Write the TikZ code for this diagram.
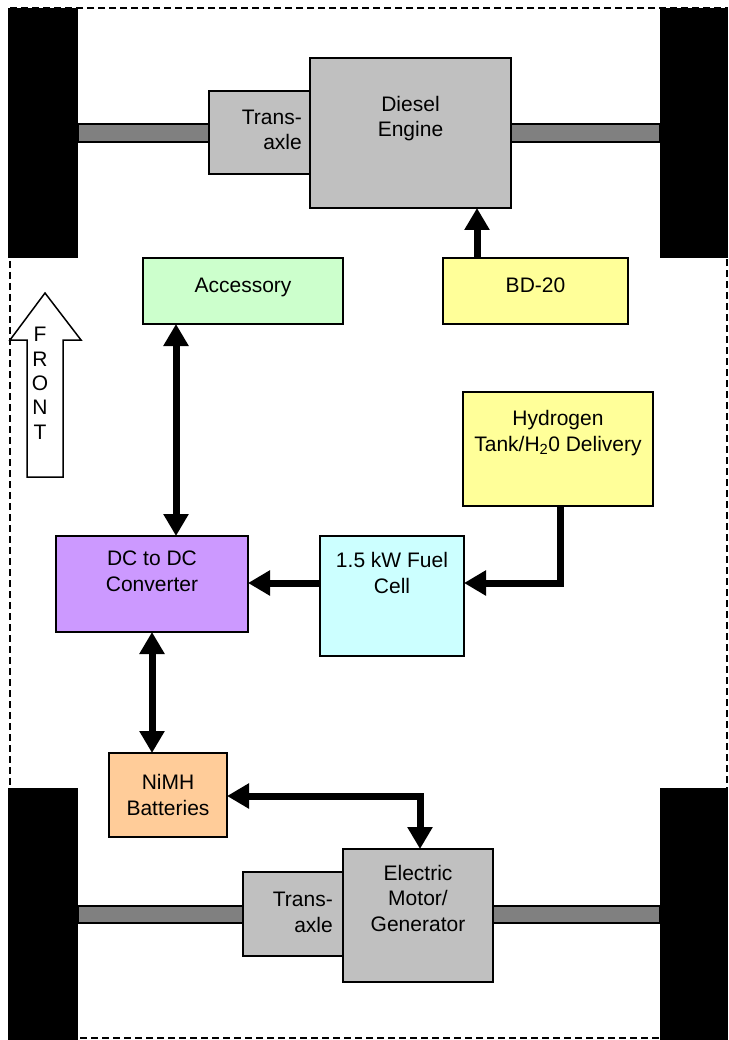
\documentclass[tikz,border=0pt]{standalone}
\usepackage{fontspec}
\setmainfont{Liberation Sans}
\usetikzlibrary{arrows.meta}
\definecolor{boxgray}{HTML}{C0C0C0}
\definecolor{axlegray}{HTML}{808080}
\definecolor{accgreen}{HTML}{CCFFCC}
\definecolor{fuelyellow}{HTML}{FFFF99}
\definecolor{cellcyan}{HTML}{CCFFFF}
\definecolor{dcpurple}{HTML}{CC99FF}
\definecolor{batorange}{HTML}{FFCC99}
\tikzset{
  blk/.style={draw=black, line width=2pt, rectangle, inner sep=0pt, outer sep=0pt},
  txt/.style={font=\fontsize{21}{25.5}\selectfont, inner sep=0pt, align=center, anchor=base},
  txtr/.style={font=\fontsize{21}{25.5}\selectfont, inner sep=0pt, align=right, anchor=base east},
  conn/.style={line width=7pt, miter limit=10, -{Triangle[length=22pt,width=24pt]}},
  dconn/.style={line width=7pt, miter limit=10, {Triangle[length=22pt,width=24pt]}-{Triangle[length=22pt,width=24pt]}}
}
\begin{document}
\begin{tikzpicture}[x=1pt,y=-1pt]
\useasboundingbox (0,0) rectangle (728,1040);
% chassis outline
\draw[line width=1.3pt, dash pattern=on 7pt off 4pt] (10,8) rectangle (727,1038);
% axles
\draw[fill=axlegray, line width=1.5pt] (78,124) rectangle (660,142);
\draw[fill=axlegray, line width=1.5pt] (78,906) rectangle (660,923);
% wheels
\fill[black] (8,8) rectangle (78,258);
\fill[black] (660,8) rectangle (728,258);
\fill[black] (8,788) rectangle (78,1040);
\fill[black] (660,788) rectangle (728,1040);
% boxes
\node[blk, fill=boxgray, minimum width=101pt, minimum height=83pt] (taT) at (259.5,132.5) {};
\node[blk, fill=boxgray, minimum width=201pt, minimum height=150pt] (eng) at (410.5,133) {};
\node[blk, fill=accgreen, minimum width=200pt, minimum height=66pt] (acc) at (243,291) {};
\node[blk, fill=fuelyellow, minimum width=185pt, minimum height=66pt] (bd) at (535.5,291) {};
\node[blk, fill=fuelyellow, minimum width=190pt, minimum height=114pt] (hyd) at (558,449) {};
\node[blk, fill=cellcyan, minimum width=144pt, minimum height=120pt] (fc) at (392,596) {};
\node[blk, fill=dcpurple, minimum width=192pt, minimum height=96pt] (dc) at (152,584) {};
\node[blk, fill=batorange, minimum width=118pt, minimum height=84pt] (nimh) at (168,795) {};
\node[blk, fill=boxgray, minimum width=100pt, minimum height=84pt] (taB) at (293,914) {};
\node[blk, fill=boxgray, minimum width=150pt, minimum height=133pt] (mot) at (418,915.5) {};
% texts (anchor base = baseline of last line)
\node[txt] (tEng) at (410.5,137) {Diesel\\Engine};
\node[txtr] (tTaT) at (302,150) {Trans-\\axle};
\node[txt] (tAcc) at (243,292) {Accessory};
\node[txt] (tBd) at (535.5,292) {BD-20};
\node[txt] (tHyd) at (558,451) {Hydrogen\\Tank/H\textsubscript{2}0 Delivery};
\node[txt] (tFc) at (392,593) {1.5 kW Fuel\\Cell};
\node[txt] (tDc) at (152,591) {DC to DC\\Converter};
\node[txt] (tNimh) at (168,815) {NiMH\\Batteries};
\node[txt] (tMot) at (418,931) {Electric\\Motor/\\Generator};
\node[txtr] (tTaB) at (333,932) {Trans-\\axle};
% front arrow
\draw[line width=1.5pt, fill=white] (45,293) -- (81,340) -- (63,340) -- (63,477) -- (27,477) -- (27,340) -- (10,340) -- cycle;
\node[font=\fontsize{21}{24.3}\selectfont, inner sep=0pt, align=center, anchor=base] (front) at (40,439) {F\\R\\O\\N\\T};
% connector helper coordinates
\coordinate (xBd) at (477,0);
\coordinate (xAcc) at (176,0);
\coordinate (xHyd) at (560,0);
\coordinate (yFc) at (0,583);
\coordinate (xDc) at (152,0);
\coordinate (yNimh) at (0,796);
\coordinate (xMot) at (420,0);
% connectors
\draw[conn] (bd.north -| xBd) -- (eng.south -| xBd);
\draw[dconn] (acc.south -| xAcc) -- (dc.north -| xAcc);
\draw[conn] (hyd.south -| xHyd) |- (fc.east |- yFc);
\draw[conn] (fc.west |- yFc) -- (dc.east |- yFc);
\draw[dconn] (dc.south -| xDc) -- (nimh.north -| xDc);
\draw[dconn] (nimh.east |- yNimh) -| (mot.north -| xMot);
\end{tikzpicture}
\end{document}
